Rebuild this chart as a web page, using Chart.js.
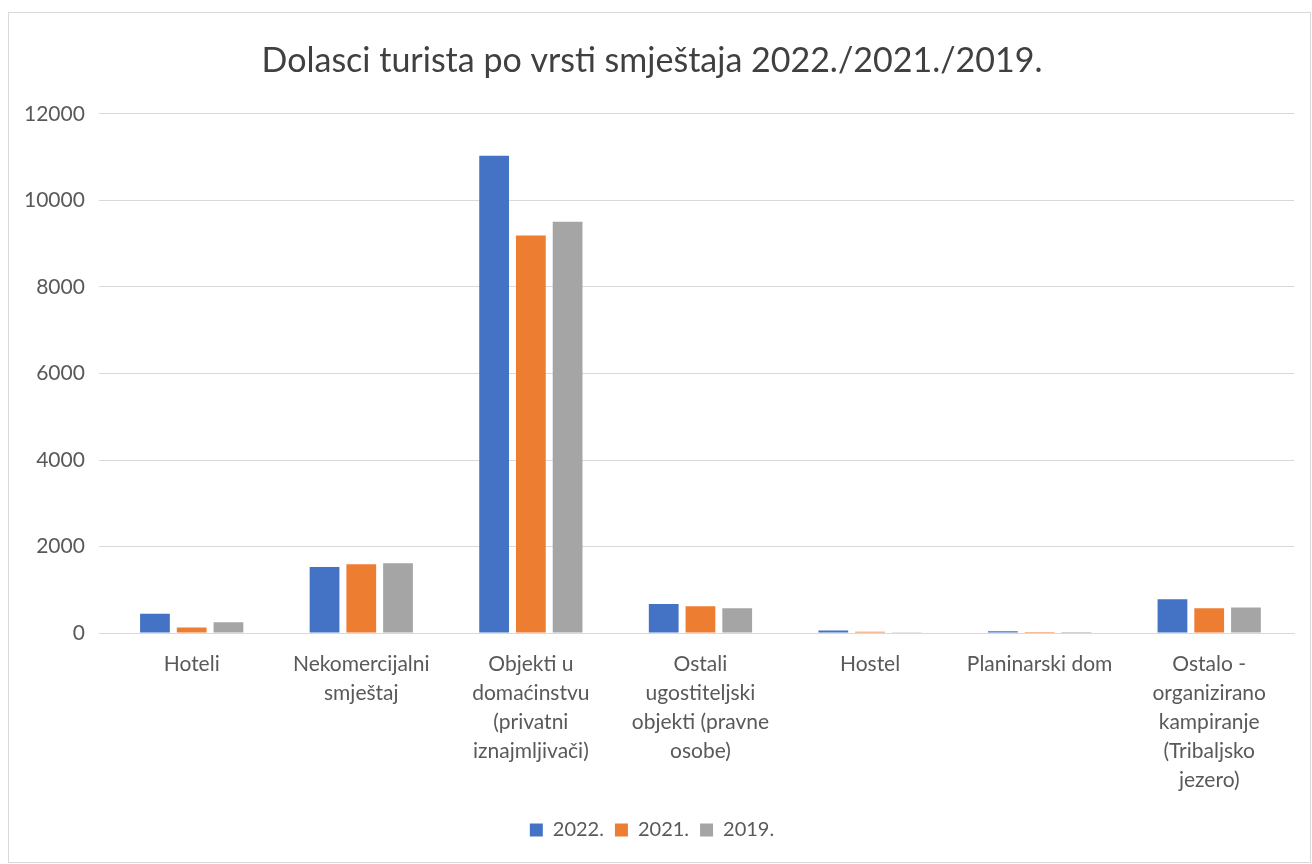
<!DOCTYPE html>
<html>
<head>
<meta charset="utf-8">
<script src="https://cdn.jsdelivr.net/npm/chart.js@4.4.0/dist/chart.umd.min.js"></script>
<style>
  body { margin: 0; background: #fff; }
  #frame {
    position: absolute; left: 8px; top: 12px; width: 1303px; height: 851px;
    border: 1px solid #d9d9d9; box-sizing: border-box;
  }
  canvas { display: block; }
</style>
</head>
<body>
<div id="frame"><canvas id="chart"></canvas></div>
<script>
const categories = [
  "Hoteli",
  ["Nekomercijalni", "smještaj"],
  ["Objekti u", "domaćinstvu", "(privatni", "iznajmljivači)"],
  ["Ostali", "ugostiteljski", "objekti (pravne", "osobe)"],
  "Hostel",
  "Planinarski dom",
  ["Ostalo -", "organizirano", "kampiranje", "(Tribaljsko", "jezero)"],
];
const values2022 = [450, 1530, 11030, 670, 60, 40, 785];
const values2021 = [130, 1590, 9185, 623, 30, 5, 577];
const values2019 = [250, 1615, 9505, 577, 20, 3, 590];
const yTicks = [0, 2000, 4000, 6000, 8000, 10000, 12000];

const fontFamily = "Lato, 'Open Sans', sans-serif";
const textColor = "#595959";

const ctx = document.getElementById("chart").getContext("2d");
new Chart(ctx, {
  type: "bar",
  data: {
    labels: categories,
    datasets: [
      { label: "2022.", data: values2022, backgroundColor: "#4472c4" },
      { label: "2021.", data: values2021, backgroundColor: "#ed7d31" },
      { label: "2019.", data: values2019, backgroundColor: "#a5a5a5" },
    ],
  },
  options: {
    responsive: true,
    maintainAspectRatio: false,
    animation: false,
    categoryPercentage: 0.65,
    barPercentage: 0.81,
    layout: { padding: { left: 1, right: 16, top: 0, bottom: 12 } },
    plugins: {
      title: {
        display: true,
        text: "Dolasci turista po vrsti smještaja 2022./2021./2019.",
        color: "#404040",
        font: { family: fontFamily, size: 34, weight: "normal" },
        padding: { top: 28, bottom: 32 },
      },
      legend: {
        position: "bottom",
        labels: {
          color: textColor,
          font: { family: fontFamily, size: 20 },
          boxWidth: 13,
          boxHeight: 13,
          padding: 11,
        },
      },
      tooltip: { enabled: false },
    },
    scales: {
      x: {
        grid: { display: false },
        border: { color: "#d9d9d9" },
        ticks: {
          color: textColor,
          font: { family: fontFamily, size: 21, lineHeight: 1.38 },
          maxRotation: 0,
          autoSkip: false,
          padding: 9,
        },
        // extra room between the category labels and the legend
        afterFit: (scale) => {
          scale.height += 5;
        },
      },
      y: {
        min: 0,
        max: 12000,
        afterBuildTicks: (axis) => {
          axis.ticks = yTicks.map((v) => ({ value: v }));
        },
        grid: { color: "#d9d9d9" },
        border: { display: false },
        ticks: {
          color: textColor,
          font: { family: fontFamily, size: 21 },
          padding: 14,
          callback: (v) => String(v),
        },
      },
    },
  },
});
</script>
</body>
</html>
